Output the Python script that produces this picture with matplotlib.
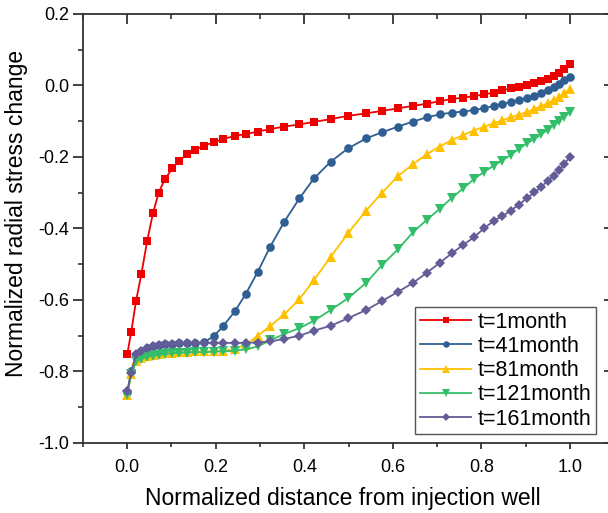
import numpy as np
import matplotlib
matplotlib.use('Agg')
import matplotlib.pyplot as plt
from matplotlib.ticker import MultipleLocator

plt.rcParams['font.family'] = ['Liberation Sans', 'DejaVu Sans']

# 1 - Data

x_dist = [0.000, 0.009, 0.020, 0.032, 0.045, 0.058, 0.071, 0.085, 0.102, 0.118,
          0.135, 0.154, 0.174, 0.195, 0.217, 0.243, 0.268, 0.295, 0.323, 0.355,
          0.389, 0.422, 0.460, 0.499, 0.540, 0.576, 0.612, 0.646, 0.677, 0.706,
          0.733, 0.759, 0.783, 0.806, 0.829, 0.847, 0.867, 0.885, 0.903, 0.920,
          0.936, 0.950, 0.964, 0.976, 0.988, 1.000]

s_1 = [-0.752, -0.689, -0.602, -0.527, -0.435, -0.358, -0.300, -0.262, -0.232, -0.210,
       -0.192, -0.180, -0.168, -0.159, -0.150, -0.141, -0.136, -0.129, -0.122, -0.115,
       -0.109, -0.102, -0.094, -0.085, -0.078, -0.071, -0.064, -0.057, -0.051, -0.044,
       -0.038, -0.034, -0.030, -0.025, -0.020, -0.014, -0.008, -0.003, 0.002, 0.008,
       0.013, 0.019, 0.026, 0.034, 0.046, 0.060]

s_41 = [-0.858, -0.800, -0.754, -0.742, -0.734, -0.729, -0.726, -0.724, -0.722, -0.721,
        -0.720, -0.720, -0.718, -0.702, -0.673, -0.632, -0.583, -0.521, -0.451, -0.381,
        -0.316, -0.260, -0.213, -0.176, -0.148, -0.131, -0.115, -0.101, -0.089, -0.081,
        -0.076, -0.073, -0.069, -0.064, -0.057, -0.052, -0.046, -0.041, -0.035, -0.029,
        -0.022, -0.014, -0.005, 0.005, 0.014, 0.025]

s_81 = [-0.865, -0.806, -0.770, -0.762, -0.757, -0.754, -0.751, -0.749, -0.747, -0.746,
        -0.745, -0.744, -0.744, -0.743, -0.742, -0.737, -0.725, -0.700, -0.673, -0.640,
        -0.598, -0.544, -0.479, -0.413, -0.350, -0.300, -0.253, -0.220, -0.192, -0.171,
        -0.153, -0.139, -0.126, -0.116, -0.105, -0.098, -0.089, -0.082, -0.074, -0.066,
        -0.058, -0.050, -0.041, -0.032, -0.021, -0.010]

s_121 = [-0.866, -0.807, -0.772, -0.764, -0.759, -0.756, -0.753, -0.751, -0.749, -0.748,
         -0.747, -0.746, -0.746, -0.745, -0.744, -0.742, -0.738, -0.730, -0.713, -0.695,
         -0.679, -0.658, -0.628, -0.595, -0.552, -0.502, -0.458, -0.410, -0.376, -0.345,
         -0.315, -0.288, -0.262, -0.242, -0.224, -0.210, -0.194, -0.177, -0.162, -0.149,
         -0.137, -0.124, -0.111, -0.099, -0.087, -0.075]

s_161 = [-0.855, -0.803, -0.752, -0.742, -0.734, -0.729, -0.726, -0.724, -0.722, -0.721,
         -0.720, -0.720, -0.720, -0.720, -0.720, -0.720, -0.720, -0.719, -0.716, -0.709,
         -0.700, -0.686, -0.672, -0.651, -0.628, -0.603, -0.577, -0.552, -0.524, -0.496,
         -0.470, -0.446, -0.425, -0.400, -0.378, -0.366, -0.350, -0.333, -0.316, -0.299,
         -0.283, -0.267, -0.252, -0.237, -0.220, -0.199]

labels = ['t=1month', 't=41month', 't=81month', 't=121month', 't=161month']
series = [s_1, s_41, s_81, s_121, s_161]
colors = ['#EE0000', '#2E5E92', '#FFC000', '#33BF6A', '#625D96']
markers = ['s', 'o', '^', 'v', 'D']
msizes = [6.0, 6.2, 6.8, 6.8, 5.4]

# 2 - Plot

fig = plt.figure(figsize=(6.08, 5.13), dpi=100)
ax = fig.add_axes([0.1365, 0.1365, 0.8734, 0.8363])

for y, c, m, ms, lab in zip(series, colors, markers, msizes, labels):
    ax.plot(x_dist, y, color=c, marker=m, markersize=ms, linewidth=1.3,
            markeredgewidth=0, label=lab)

ax.set_xlim(-0.1, 1.1)
ax.set_ylim(-1.0, 0.2)
ax.set_xticks([0.0, 0.2, 0.4, 0.6, 0.8, 1.0])
ax.set_yticks([-1.0, -0.8, -0.6, -0.4, -0.2, 0.0, 0.2])
ax.xaxis.set_minor_locator(MultipleLocator(0.1))
ax.yaxis.set_minor_locator(MultipleLocator(0.1))
ax.set_xticklabels([f'{v:.1f}' for v in ax.get_xticks()])
ax.set_yticklabels([f'{v:.1f}' for v in ax.get_yticks()])

for sp in ax.spines.values():
    sp.set_linewidth(1.3)
    sp.set_color('#333333')

ax.tick_params(axis='y', which='major', left=True, right=True, direction='out',
               length=7, width=1.3, color='#333333', labelsize=13, pad=3)
ax.tick_params(axis='y', which='minor', left=True, direction='out',
               length=3.5, width=1.2, color='#333333')
ax.tick_params(axis='x', which='major', bottom=True, top=True, direction='out',
               length=4.5, width=1.3, color='#333333', labelsize=13, pad=7)
ax.tick_params(axis='x', which='minor', bottom=True, top=True, direction='out',
               length=3, width=1.2, color='#333333')
# top / right ticks point inward
for t in ax.xaxis.get_major_ticks():
    t.tick2line.set_marker(3)
    t.tick2line.set_markersize(7)
for t in ax.xaxis.get_minor_ticks():
    t.tick2line.set_marker(3)
    t.tick2line.set_markersize(3.5)
for t in ax.yaxis.get_major_ticks():
    t.tick2line.set_marker(0)
    t.tick2line.set_markersize(7)

ax.set_xlabel('Normalized distance from injection well', fontsize=16.5, va='center')
ax.xaxis.set_label_coords(0.49, -0.1305)
ax.set_ylabel('Normalized radial stress change', fontsize=16.5, va='center')
ax.yaxis.set_label_coords(-0.125, 0.535)

leg = ax.legend(loc='lower right', bbox_to_anchor=(0.966, 0.021), borderaxespad=0,
                fontsize=15.5, markerscale=0.75, handlelength=2.4, handletextpad=0.3,
                labelspacing=0.15, borderpad=0.2, fancybox=False, framealpha=1)
leg.get_frame().set_edgecolor('#555555')
leg.get_frame().set_linewidth(1.0)

plt.savefig('out.png', dpi=100, facecolor='w')
